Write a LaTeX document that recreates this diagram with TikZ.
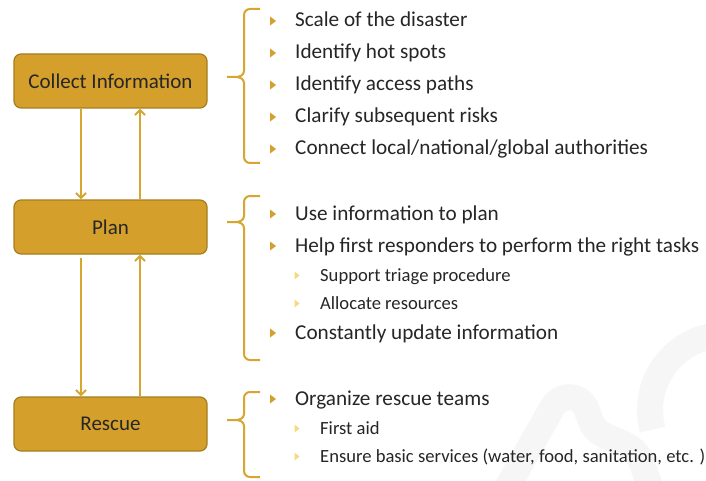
\documentclass[tikz,border=0pt]{standalone}
\usepackage{fontspec}
\setmainfont{Carlito}
\usetikzlibrary{arrows.meta}
\definecolor{gold}{HTML}{D4A02B}
\definecolor{goldline}{HTML}{D6A630}
\definecolor{goldedge}{HTML}{A67D1F}
\definecolor{subgold}{HTML}{F8D97A}
\definecolor{ink}{HTML}{262626}
\definecolor{wmark}{HTML}{F6F6F6}
\tikzset{
  stagebox/.style={draw=goldedge, line width=1.2pt, fill=gold, rounded corners=7pt,
    minimum width=193pt, minimum height=54pt, inner sep=0pt,
    font=\fontsize{21}{24}\selectfont, text=ink},
  flow/.style={draw=goldline, line width=2pt, -{Straight Barb[length=5pt,width=10pt,line width=2pt]}},
  bracket/.style={draw=goldline, line width=2pt},
  itemA/.style={anchor=base west, inner sep=0pt, font=\fontsize{21.2}{24}\selectfont, text=ink},
  itemB/.style={anchor=base west, inner sep=0pt, font=\fontsize{18.6}{22}\selectfont, text=ink},
  wm/.style={draw=wmark, line width=26pt, line join=round, line cap=butt}
}
\newcommand{\markA}[2]{\fill[gold] (#1-3,#2-10.5) -- (#1+3,#2-6) -- (#1-3,#2-1.5) -- cycle;}
\newcommand{\markB}[2]{\fill[subgold] (#1-2.5,#2-9.5) -- (#1+2.5,#2-5.5) -- (#1-2.5,#2-1.5) -- cycle;}
\newcommand{\sidebrace}[3]{%
  \draw[bracket] (260,#1) -- (250,#1) to[out=180,in=90] (244,#1+6) -- (244,#2-6)
    to[out=-90,in=0] (236,#2) -- (227,#2);
  \draw[bracket] (236,#2) to[out=0,in=90] (244,#2+6) -- (244,#3-6)
    to[out=-90,in=180] (250,#3) -- (260,#3);}
\begin{document}
\begin{tikzpicture}[x=1pt,y=-1pt]
\useasboundingbox (0,0) rectangle (706,481);
\fill[white] (0,0) rectangle (706,481);

% faint background lettering
\begin{scope}
\clip (0,0) rectangle (706,481);
\draw[wm] (500,500) -- (552,408) .. controls (560,394) and (578,393) .. (586,408)
  -- (592,424) .. controls (602,442) and (628,438) .. (640,458) -- (652,492);
\draw[wm] (725,410) ++(165:75) arc[start angle=165, end angle=272, radius=75];
\end{scope}

% stages
\node[stagebox] (ci) at (110.5,81) {Collect Information};
\node[stagebox] (plan) at (110.5,227) {Plan};
\node[stagebox] (rescue) at (110.5,424) {Rescue};

% feedback loops between stages
\draw[flow] ([xshift=-29.5pt]ci.south) -- ([xshift=-29.5pt]plan.north);
\draw[flow] ([xshift=29.5pt]plan.north) -- ([xshift=29.5pt]ci.south);
\draw[flow] ([xshift=-29.5pt,yshift=-3pt]plan.south) -- ([xshift=-29.5pt]rescue.north);
\draw[flow] ([xshift=29.5pt]rescue.north) -- ([xshift=29.5pt]plan.south);

% braces
\sidebrace{9}{77}{163}
\sidebrace{196}{222}{360}
\sidebrace{392}{420}{477}

% collect information items
\markA{273}{27}\node[itemA] (c1) at (295,27) {Scale of the disaster};
\markA{273}{59}\node[itemA] (c2) at (295,59) {Identify hot spots};
\markA{273}{91}\node[itemA] (c3) at (295,91) {Identify access paths};
\markA{273}{123}\node[itemA] (c4) at (295,123) {Clarify subsequent risks};
\markA{273}{155}\node[itemA] (c5) at (295,155) {Connect local/national/global authorities};

% plan items
\markA{273}{220}\node[itemA] (p1) at (295,220) {Use information to plan};
\markA{273}{252}\node[itemA] (p2) at (295,252) {Help first responders to perform the right tasks};
\markB{297}{281}\node[itemB] (p3) at (320,281) {Support triage procedure};
\markB{297}{309}\node[itemB] (p4) at (320,309) {Allocate resources};
\markA{273}{339}\node[itemA] (p5) at (295,339) {Constantly update information};

% rescue items
\markA{273}{405}\node[itemA] (r1) at (295,405) {Organize rescue teams};
\markB{297}{434}\node[itemB] (r2) at (320,434) {First aid};
\markB{297}{462}\node[itemB] (r3) at (320,462) {Ensure basic services (water, food, sanitation, etc. )};
\end{tikzpicture}
\end{document}
